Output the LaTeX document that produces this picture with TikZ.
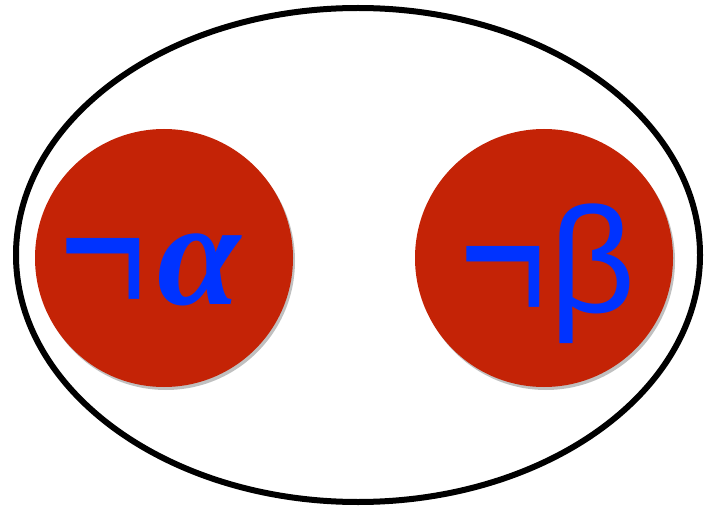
\documentclass[tikz,border=0pt]{standalone}
\usepackage{fontspec}
\newfontfamily\serifgr{Liberation Serif}
\newfontfamily\sansgr{Liberation Sans}
\usetikzlibrary{shadows,shapes.geometric}
\definecolor{discred}{HTML}{C42306}
\definecolor{txtblue}{HTML}{0033FF}
\tikzset{
  disc/.style={circle, fill=discred, minimum size=258pt, inner sep=0pt,
    drop shadow={shadow xshift=2pt, shadow yshift=-3pt, opacity=0.35, fill=black!70}},
  lbl/.style={text=txtblue, inner sep=0pt, anchor=base},
  negfont/.style={font={\sansgr\fontsize{150}{150}\selectfont}}
}
\newcommand{\tallneg}{\scalebox{1}[1.45]{¬}}
\begin{document}
\begin{tikzpicture}[x=1pt,y=-1pt]
\useasboundingbox (0,0) rectangle (704,513);
\node[ellipse, draw=black, fill=white, line width=6pt, minimum width=684pt, minimum height=494pt, inner sep=0pt] (outer) at (358,255) {};
\node[disc] (left) at (164,258) {};
\node[disc] (right) at (544,258) {};
\node[lbl, negfont] (ln) at (103,318) {\tallneg};
\node[lbl, font={\serifgr\bfseries\itshape\fontsize{150}{150}\selectfont}] (la) at (199,304) {α};
\node[lbl, negfont] (rn) at (503,326) {\tallneg};
\node[lbl, font={\sansgr\fontsize{150}{150}\selectfont}] (rb) at (593,312) {β};
\end{tikzpicture}
\end{document}
